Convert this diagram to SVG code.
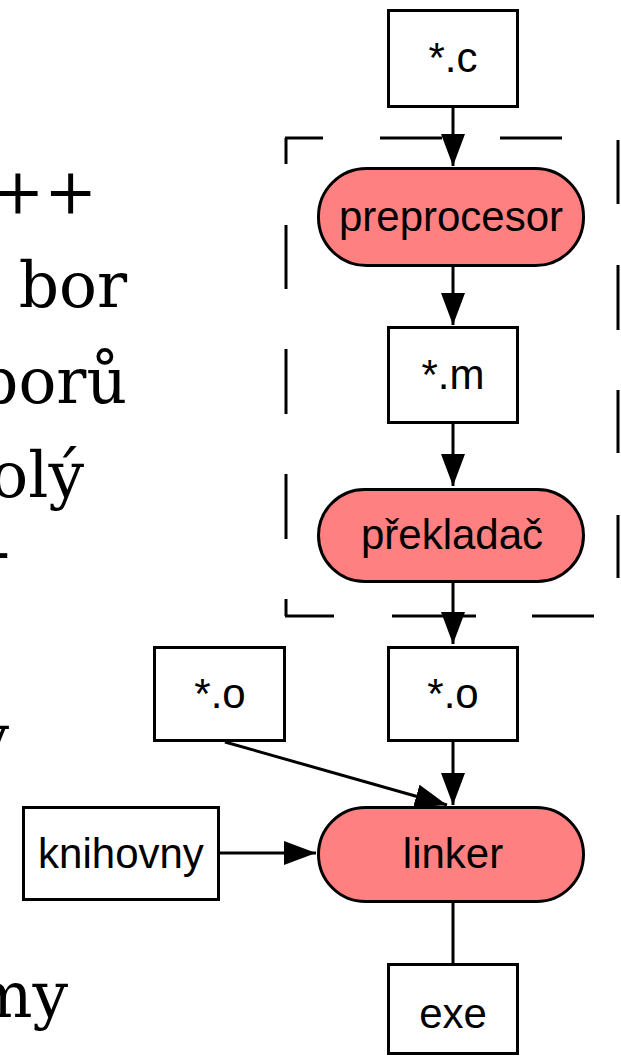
<svg xmlns="http://www.w3.org/2000/svg" width="621" height="1056" viewBox="0 0 621 1056">
  <style>
    .box { fill: #ffffff; stroke: #000000; stroke-width: 3; }
    .proc { fill: #ff8080; stroke: #000000; stroke-width: 3; }
    .lbl { font-family: "Liberation Sans", Arial, sans-serif; font-size: 42px; fill: #000000; text-anchor: middle; }
    .slide { font-family: "DejaVu Serif", serif; font-size: 63px; fill: #000000; text-anchor: end; }
    .edge { fill: none; stroke: #000000; stroke-width: 3; }
    .frame { fill: none; stroke: #000000; stroke-width: 3; }
  </style>
  <defs>
    <marker id="arrow" viewBox="0 0 32 24" refX="32" refY="12" markerWidth="32" markerHeight="24" markerUnits="userSpaceOnUse" orient="auto">
      <path d="M0,0 L32,12 L0,24 Z" fill="#000000"/>
    </marker>
  </defs>

  <rect width="621" height="1056" fill="#ffffff"/>

  <!-- slide text running off the left edge -->
  <g id="slide-text">
    <text class="slide" x="97" y="213">++</text>
    <text class="slide" x="127" y="307">bor</text>
    <text class="slide" x="127" y="403">borů</text>
    <text class="slide" x="84" y="497">olý</text>
    <text class="slide" x="10" y="573">-</text>
    <text class="slide" x="9" y="759">y</text>
    <text class="slide" x="68" y="1017">my</text>
  </g>

  <!-- dashed boundary around preprocessor and compiler -->
  <g id="compile-frame">
    <path class="frame" d="M285,138 H323 M380,138 H442 M500,138 H562
                           M286,138 V164 M286,225 V289 M286,349 V414 M286,474 V539 M286,599 V616
                           M285,616 H334 M392,616 H476 M532,616 H594
                           M618,140 V204 M618,265 V330 M618,390 V453 M618,515 V578"/>
  </g>

  <!-- connectors -->
  <g id="connectors">
    <line class="edge" x1="453" y1="108" x2="453" y2="166" marker-end="url(#arrow)"/>
    <line class="edge" x1="453" y1="267" x2="453" y2="325" marker-end="url(#arrow)"/>
    <line class="edge" x1="453" y1="424" x2="453" y2="486" marker-end="url(#arrow)"/>
    <line class="edge" x1="453" y1="583" x2="453" y2="644" marker-end="url(#arrow)"/>
    <line class="edge" x1="453" y1="742" x2="453" y2="805" marker-end="url(#arrow)"/>
    <line class="edge" x1="225" y1="742" x2="447" y2="805" marker-end="url(#arrow)"/>
    <line class="edge" x1="220" y1="853" x2="316" y2="853" marker-end="url(#arrow)"/>
    <line class="edge" x1="453" y1="903" x2="453" y2="964"/>
  </g>

  <!-- nodes -->
  <g id="src-c">
    <rect class="box" x="388.5" y="10.5" width="129" height="96"/>
    <text class="lbl" x="453" y="72">*.c</text>
  </g>
  <g id="preprocesor">
    <rect class="proc" x="318.5" y="168.5" width="265" height="97" rx="48" ry="48"/>
    <text class="lbl" x="451" y="231">preprocesor</text>
  </g>
  <g id="src-m">
    <rect class="box" x="388.5" y="327.5" width="129" height="95"/>
    <text class="lbl" x="453" y="389">*.m</text>
  </g>
  <g id="prekladac">
    <rect class="proc" x="318.5" y="489.5" width="265" height="92" rx="46" ry="46"/>
    <text class="lbl" x="452" y="549">překladač</text>
  </g>
  <g id="obj-o">
    <rect class="box" x="388.5" y="647.5" width="129" height="93"/>
    <text class="lbl" x="453" y="708">*.o</text>
  </g>
  <g id="obj-o-other">
    <rect class="box" x="154.5" y="647.5" width="130" height="93"/>
    <text class="lbl" x="220" y="708">*.o</text>
  </g>
  <g id="linker">
    <rect class="proc" x="318.5" y="807.5" width="265" height="94" rx="47" ry="47"/>
    <text class="lbl" x="453" y="868">linker</text>
  </g>
  <g id="knihovny">
    <rect class="box" x="23.5" y="807.5" width="195" height="92"/>
    <text class="lbl" x="121" y="868">knihovny</text>
  </g>
  <g id="exe">
    <rect class="box" x="388.5" y="964.5" width="129" height="89"/>
    <text class="lbl" x="453" y="1028">exe</text>
  </g>
</svg>
